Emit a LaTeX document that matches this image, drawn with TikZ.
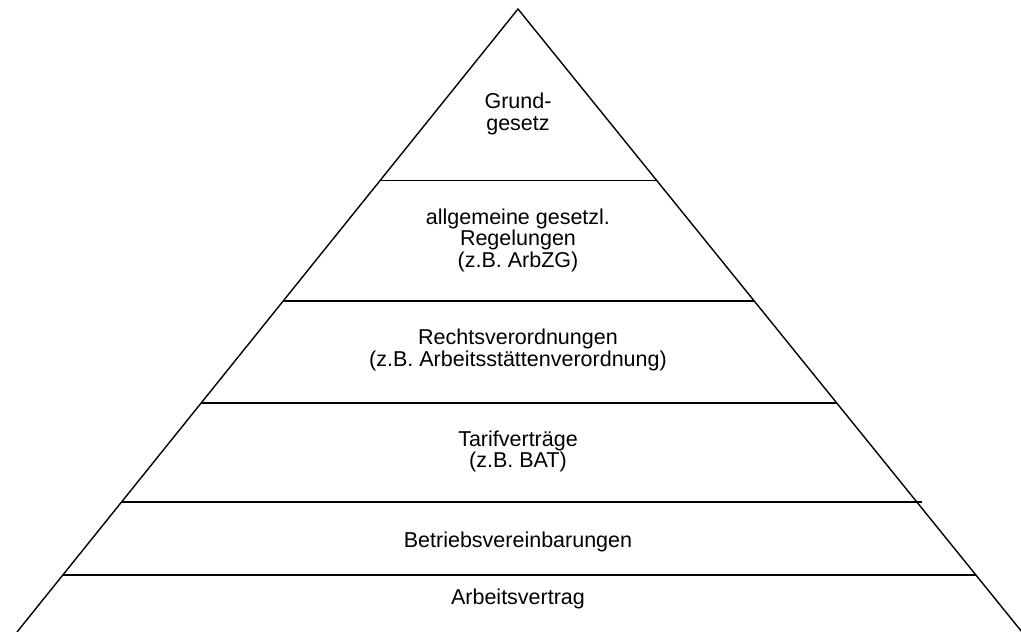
\documentclass[tikz,border=0pt]{standalone}
\usepackage{fontspec}
\setmainfont{Liberation Sans}
\usetikzlibrary{calc}
\begin{document}
\begin{tikzpicture}[x=1pt,y=-1pt,
  edge/.style={line width=1.4pt,black},
  lvl/.style={line width=1.4pt,black},
  lbl/.style={align=center,font=\fontsize{21.5}{21.5}\selectfont,inner sep=0pt}]
\useasboundingbox (0,0) rectangle (1021,632);
\coordinate (A) at (518,9);
\coordinate (L) at (17,632);
\coordinate (R) at (1022,632);
\draw[edge] (L) -- (A) -- (R);
% level lines
\foreach \y/\n in {180.5/a,301/b,403/c,502/d,575/e}{
  \pgfmathsetmacro{\t}{(\y-9)/623}
  \coordinate (l\n) at ($(A)!\t!(L)$);
  \coordinate (r\n) at ($(A)!\t!(R)$);
}
\coordinate (rdx) at ($(rd)+(5,0)$);
\draw[lvl] (la) -- (ra);
\draw[lvl] (lb) -- (rb);
\draw[lvl] (lc) -- (rc);
\draw[lvl] (ld) -- (rdx);
\draw[lvl] (le) -- (re);
\node[lbl] (t1) at (518,114) {Grund-\\gesetz};
\node[lbl] (t2) at (518,240) {allgemeine gesetzl.\\Regelungen\\(z.B. ArbZG)};
\node[lbl] (t3) at (518,350) {Rechtsverordnungen\\(z.B. Arbeitsstättenverordnung)};
\node[lbl] (t4) at (518,451.5) {Tarifverträge\\(z.B. BAT)};
\node[lbl] (t5) at (518,541.5) {Betriebsvereinbarungen};
\node[lbl] (t6) at (518,598.5) {Arbeitsvertrag};
\end{tikzpicture}
\end{document}
